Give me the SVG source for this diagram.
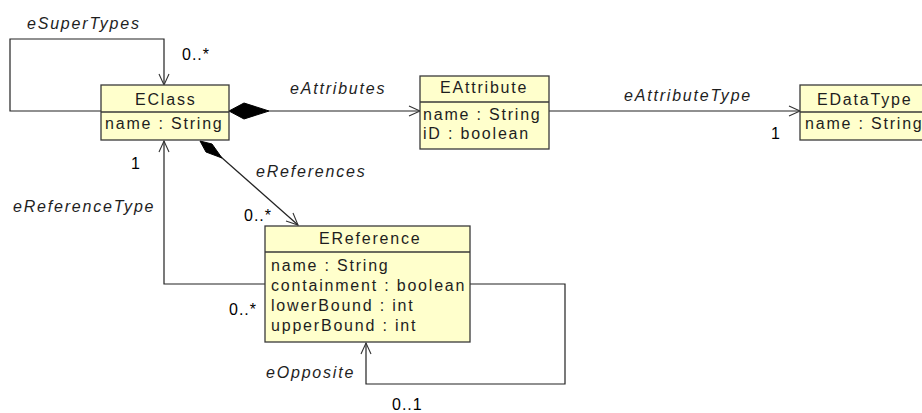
<svg xmlns="http://www.w3.org/2000/svg" width="922" height="413" viewBox="0 0 922 413">
  <style>
    .box { fill: #FFFFCC; stroke: #3a3a3a; stroke-width: 1.3; }
    .div { stroke: #3a3a3a; stroke-width: 1.3; }
    .t { font-family: "Liberation Sans", Arial, sans-serif; font-size: 16px; letter-spacing: 1.8px; fill: #1e1e1e; }
    .lbl { font-family: "Liberation Sans", Arial, sans-serif; font-size: 16px; letter-spacing: 1.8px; fill: #1e1e1e; font-style: italic; }
    .mult { font-family: "Liberation Sans", Arial, sans-serif; font-size: 16px; letter-spacing: 1px; fill: #000; }
    .edge { fill: none; stroke: #222; stroke-width: 1.2; }
    .head { fill: none; stroke: #333; stroke-width: 1.1; }
    .dia { fill: #000; stroke: #000; stroke-width: 1; }
  </style>

  <!-- associations -->
  <g id="connectors">
    <!-- eSuperTypes: self loop on EClass -->
    <polyline class="edge" points="101,111 10,111 10,39 164,39 164,84"/>
    <polyline class="head" points="159,74 164,85 169,74"/>

    <!-- eAttributes: EClass -> EAttribute (composition) -->
    <line class="edge" x1="269" y1="111" x2="420" y2="111"/>
    <polygon class="dia" points="229,111 244,103 269,111 244,119"/>
    <polyline class="head" points="409,106 420,111 409,116"/>

    <!-- eAttributeType: EAttribute -> EDataType -->
    <line class="edge" x1="549" y1="111" x2="800" y2="111"/>
    <polyline class="head" points="789,106 800,111 789,116"/>

    <!-- eReferences: EClass -> EReference (composition) -->
    <line class="edge" x1="221" y1="157" x2="298" y2="225"/>
    <polygon class="dia" points="200,141 206,152 222,158 212,144"/>
    <polyline class="head" points="286,221 298,225 293,213"/>

    <!-- eReferenceType: EReference -> EClass -->
    <polyline class="edge" points="265,284 164,284 164,141"/>
    <polyline class="head" points="159,152 164,141 169,152"/>

    <!-- eOpposite: self loop on EReference -->
    <polyline class="edge" points="470,284 565,284 565,384 366,384 366,343"/>
    <polyline class="head" points="361,354 366,343 371,354"/>
  </g>

  <g id="EClass">
    <rect class="box" x="101" y="85" width="128" height="55"/>
    <line class="div" x1="101" y1="112" x2="229" y2="112"/>
    <text class="t" x="135" y="105">EClass</text>
    <text class="t" x="105" y="129">name : String</text>
  </g>

  <g id="EAttribute">
    <rect class="box" x="420" y="76" width="129" height="73"/>
    <line class="div" x1="420" y1="102" x2="549" y2="102"/>
    <text class="t" x="440" y="93">EAttribute</text>
    <text class="t" x="423" y="120">name : String</text>
    <text class="t" x="423" y="139">iD : boolean</text>
  </g>

  <g id="EDataType">
    <rect class="box" x="800" y="85" width="130" height="55"/>
    <line class="div" x1="800" y1="112" x2="930" y2="112"/>
    <text class="t" x="817" y="105">EDataType</text>
    <text class="t" x="805" y="129">name : String</text>
  </g>

  <g id="EReference">
    <rect class="box" x="265" y="226" width="205" height="116"/>
    <line class="div" x1="265" y1="252" x2="470" y2="252"/>
    <text class="t" x="319" y="244">EReference</text>
    <text class="t" x="271" y="271">name : String</text>
    <text class="t" x="271" y="291">containment : boolean</text>
    <text class="t" x="271" y="311">lowerBound : int</text>
    <text class="t" x="271" y="331">upperBound : int</text>
  </g>

  <!-- role names and multiplicities -->
  <g id="labels">
    <text class="lbl" x="27" y="29">eSuperTypes</text>
    <text class="mult" x="182" y="60">0..*</text>
    <text class="lbl" x="290" y="94">eAttributes</text>
    <text class="lbl" x="624" y="101">eAttributeType</text>
    <text class="mult" x="771" y="139">1</text>
    <text class="mult" x="131" y="169">1</text>
    <text class="lbl" x="256" y="177">eReferences</text>
    <text class="lbl" x="13" y="212">eReferenceType</text>
    <text class="mult" x="244" y="221">0..*</text>
    <text class="mult" x="229" y="315">0..*</text>
    <text class="lbl" x="266" y="378">eOpposite</text>
    <text class="mult" x="392" y="410">0..1</text>
  </g>
</svg>
